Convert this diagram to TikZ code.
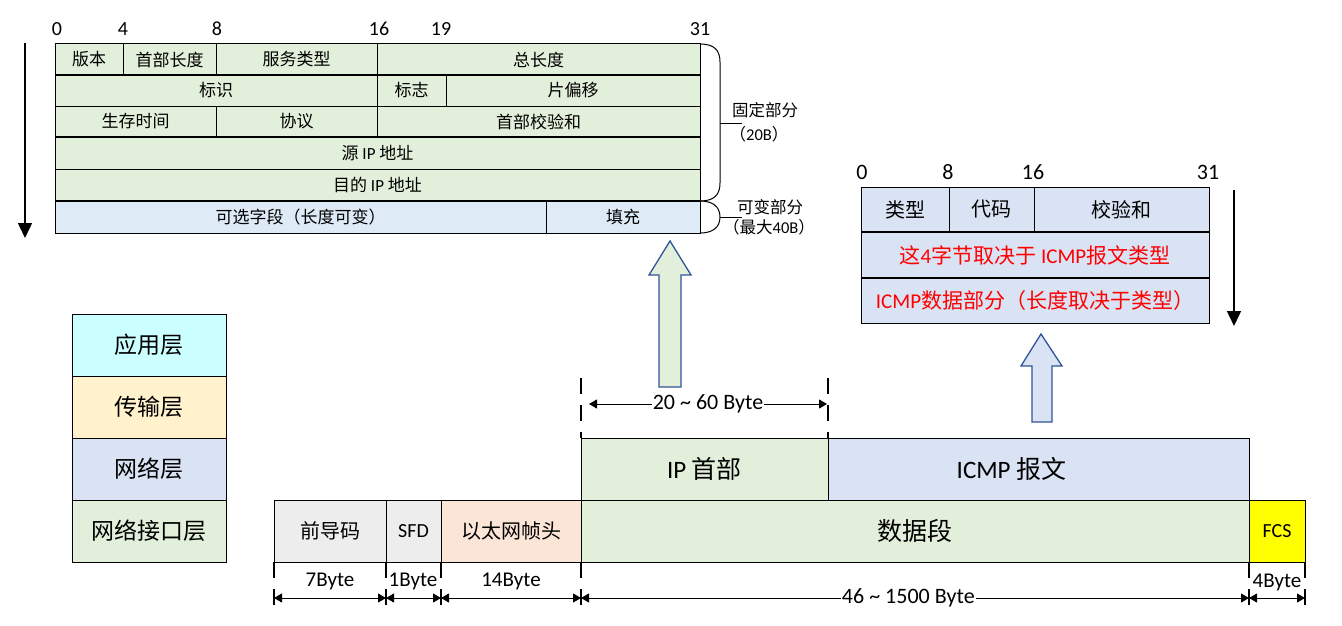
\documentclass[tikz,border=0pt]{standalone}
\usepackage{fontspec}
\setmainfont{Carlito}
\newfontfamily\cjk{Noto Sans CJK SC}
\usetikzlibrary{arrows.meta}
\newcommand\fs[1]{\fontsize{#1}{#1}\selectfont}
\newcommand\zh[1]{{\cjk #1}}
\definecolor{greenc}{HTML}{E2EFDA}
\definecolor{bluec}{HTML}{DAE3F3}
\definecolor{optc}{HTML}{DEEBF7}
\definecolor{grayc}{HTML}{EDEDED}
\definecolor{peachc}{HTML}{FBE5D6}
\definecolor{yellowc}{HTML}{FFFF00}
\definecolor{cyanc}{HTML}{CCFFFF}
\definecolor{creamc}{HTML}{FFF2CC}
\definecolor{arrowborder}{HTML}{2F5597}
\definecolor{redc}{HTML}{FF0000}
\tikzset{
  cellbase/.style={draw=black,line width=1pt,inner sep=0pt,outer sep=0pt,align=center},
  hdr/.style={fill=greenc,font=\fs{17}},
  icmpc/.style={fill=bluec,font=\fs{20}},
  icmpred/.style={fill=bluec,font=\fs{21},text=redc},
  leg/.style={font=\fs{23}},
  big/.style={font=\fs{25}},
  mid/.style={font=\fs{20}},
  bitnum/.style={font=\fs{20},inner sep=0pt},
  bitnumb/.style={font=\fs{22},inner sep=0pt},
  bracelbl/.style={font=\fs{16.5},inner sep=0pt},
  dimlbl/.style={font=\fs{21},inner sep=1pt},
  thickrow/.style={line width=2pt},
  blockarrow/.style={draw=arrowborder,line width=1.3pt,line join=miter},
  downarrow/.style={line width=1.5pt,-{Triangle[length=15pt,width=14pt]}},
  dashv/.style={line width=1.2pt,dash pattern=on 16pt off 11pt},
  dimarrow/.style={line width=1pt,{Triangle[length=8pt,width=9pt]}-{Triangle[length=8pt,width=9pt]}},
}
\newcommand\cell[7]{\node[cellbase,#6,minimum width={(#4)-(#2)},minimum height={(#5)-(#3)},anchor=north west] (#1) at (#2,#3) {#7};}
\begin{document}
\begin{tikzpicture}[x=1pt,y=-1pt]
\useasboundingbox (0,0) rectangle (1342,626);
% ---------------- IP header table ----------------
\cell{ver}{55}{44}{123}{75}{hdr}{\zh{版本}}
\cell{ihl}{123}{44}{216}{75}{hdr}{\zh{首部长度}}
\cell{tos}{216}{44}{377}{75}{hdr}{\zh{服务类型}}
\cell{tlen}{377}{44}{700}{75}{hdr}{\zh{总长度}}
\cell{ident}{55}{75}{377}{106}{hdr}{\zh{标识}}
\cell{flag}{377}{75}{446}{106}{hdr}{\zh{标志}}
\cell{frag}{446}{75}{700}{106}{hdr}{\zh{片偏移}}
\cell{ttl}{55}{106}{216}{137}{hdr}{\zh{生存时间}}
\cell{proto}{216}{106}{377}{137}{hdr}{\zh{协议}}
\cell{csum}{377}{106}{700}{137}{hdr}{\zh{首部校验和}}
\cell{src}{55}{137}{700}{169}{hdr}{\zh{源} IP \zh{地址}}
\cell{dst}{55}{169}{700}{201}{hdr}{\zh{目的} IP \zh{地址}}
\cell{opt}{55}{201}{546}{233}{hdr,fill=optc}{\zh{可选字段（长度可变）}}
\cell{pad}{546}{201}{700}{233}{hdr,fill=optc}{\zh{填充}}
\draw[thickrow] (ident.north west) -- (frag.north east);
\draw[thickrow] (src.north west) -- (src.north east);
\draw[thickrow] (opt.north west) -- (pad.north east);
% bit numbers
\node[bitnum] (h0) at (57,29) {0};
\node[bitnum] (h4) at (123,29) {4};
\node[bitnum] (h8) at (217,29) {8};
\node[bitnum] (h16) at (379,29) {16};
\node[bitnum] (h19) at (441,29) {19};
\node[bitnum] (h31) at (700,29) {31};
% left down arrow
\coordinate (la1) at (25,43);
\coordinate (la2) at (25,238);
\draw[downarrow] (la1) -- (la2);
% braces
\draw[line width=1pt] (tlen.north east) .. controls (714,44) and (720,50) .. (720,62) -- (720,183) .. controls (720,195) and (714,201) .. (dst.south east);
\coordinate (bm1) at (720,123);
\coordinate (bl1) at (742,123);
\draw[line width=1pt] (bm1) -- (bl1);
\node[bracelbl] (fixlbl) at (765,110) {\zh{固定部分}};
\node[bracelbl] (fixlbl2) at (759,134) {\zh{（}20B\zh{）}};
\draw[line width=1pt] (pad.north east) .. controls (712,201) and (720,206) .. (720,217) .. controls (720,228) and (712,233) .. (pad.south east);
\coordinate (bm2) at (720,217);
\coordinate (bl2) at (742,217);
\draw[line width=1pt] (bm2) -- (bl2);
\node[bracelbl] (varlbl) at (770,207) {\zh{可变部分}};
\node[bracelbl] (varlbl2) at (769,227) {\zh{（最大}40B\zh{）}};
% ---------------- ICMP table ----------------
\cell{itype}{861}{187}{949}{232}{icmpc}{\zh{类型}}
\cell{icode}{949}{187}{1034}{232}{icmpc}{\zh{代码}}
\cell{icsum}{1034}{187}{1209}{232}{icmpc}{\zh{校验和}}
\cell{irest}{861}{232}{1209}{278}{icmpred}{\zh{这}4\zh{字节取决于} ICMP\zh{报文类型}}
\cell{idata}{861}{278}{1209}{323}{icmpred}{ICMP\zh{数据部分（长度取决于类型）}}
\draw[thickrow] (irest.north west) -- (irest.north east);
\draw[thickrow] (idata.north west) -- (idata.north east);
\node[bitnumb] (i0) at (862,172) {0};
\node[bitnumb] (i8) at (948,172) {8};
\node[bitnumb] (i16) at (1033,172) {16};
\node[bitnumb] (i31) at (1208,172) {31};
\coordinate (ra1) at (1234,190);
\coordinate (ra2) at (1234,326);
\draw[downarrow] (ra1) -- (ra2);
% ---------------- legend ----------------
\cell{app}{72}{314}{226}{376}{leg,fill=cyanc}{\zh{应用层}}
\cell{trans}{72}{376}{226}{438}{leg,fill=creamc}{\zh{传输层}}
\cell{net}{72}{438}{226}{500}{leg,fill=bluec}{\zh{网络层}}
\cell{link}{72}{500}{226}{562}{leg,fill=greenc}{\zh{网络接口层}}
% ---------------- frame ----------------
\cell{iphdr}{581}{438}{828}{500}{big,fill=greenc}{IP \zh{首部}}
\cell{icmpmsg}{828}{438}{1249}{500}{big,fill=bluec}{\hspace*{-54pt}ICMP \zh{报文}}
\cell{pre}{274}{500}{386}{562}{mid,fill=grayc}{\zh{前导码}}
\cell{sfd}{386}{500}{441}{562}{mid,fill=grayc}{SFD}
\cell{ethhdr}{441}{500}{581}{562}{mid,fill=peachc}{\zh{以太网帧头}}
\cell{data}{581}{500}{1249}{562}{big,fill=greenc}{\zh{数据段}}
\cell{fcs}{1249}{500}{1305}{562}{mid,fill=yellowc}{FCS}
% block arrows
\draw[blockarrow,fill=greenc] (659,387) -- (659,275) -- (649,275) -- (670,241) -- (691,275) -- (681,275) -- (681,387) -- cycle;
\draw[blockarrow,fill=bluec] (1032,422) -- (1032,366) -- (1021,366) -- (1041,334) -- (1062,366) -- (1052,366) -- (1052,422) -- cycle;
% 20~60 dimension
\coordinate (dt1) at (581,378);
\coordinate (dt2) at (828,378);
\draw[dashv] (dt1) -- (iphdr.north west);
\draw[dashv] (dt2) -- (iphdr.north east);
\coordinate (da1) at (589,404);
\coordinate (da2) at (827,404);
\draw[dimarrow] (da1) -- (da2) node[midway,fill=white,dimlbl,font=\fs{22}] (lbl2060) {20 \textasciitilde{} 60 Byte};
% bottom dimensions
\coordinate (b1) at (274,606);
\coordinate (b2) at (386,606);
\coordinate (b3) at (441,606);
\coordinate (b4) at (581,606);
\coordinate (b5) at (1249,606);
\coordinate (b6) at (1305,606);
\draw[dashv] (pre.south west) -- (b1);
\draw[dashv] (pre.south east) -- (b2);
\draw[dashv] (sfd.south east) -- (b3);
\draw[dashv] (ethhdr.south east) -- (b4);
\draw[dashv] (data.south east) -- (b5);
\draw[dashv] (fcs.south east) -- (b6);
\coordinate (a1) at (274,598);
\coordinate (a2) at (386,598);
\coordinate (a3) at (441,598);
\coordinate (a4) at (581,598);
\coordinate (a5) at (1249,598);
\coordinate (a6) at (1305,598);
\draw[dimarrow] (a1) -- (a2);
\draw[dimarrow] (a2) -- (a3);
\draw[dimarrow] (a3) -- (a4);
\draw[dimarrow] (a4) -- (a5) node[pos=0.49,fill=white,dimlbl,font=\fs{22}] (lbl461500) {46 \textasciitilde{} 1500 Byte};
\draw[dimarrow] (a5) -- (a6);
\node[dimlbl] (l7) at (330,581) {7Byte};
\node[dimlbl] (l1) at (413,581) {1Byte};
\node[dimlbl] (l14) at (511,581) {14Byte};
\node[dimlbl] (l4) at (1277,582) {4Byte};
\end{tikzpicture}
\end{document}
